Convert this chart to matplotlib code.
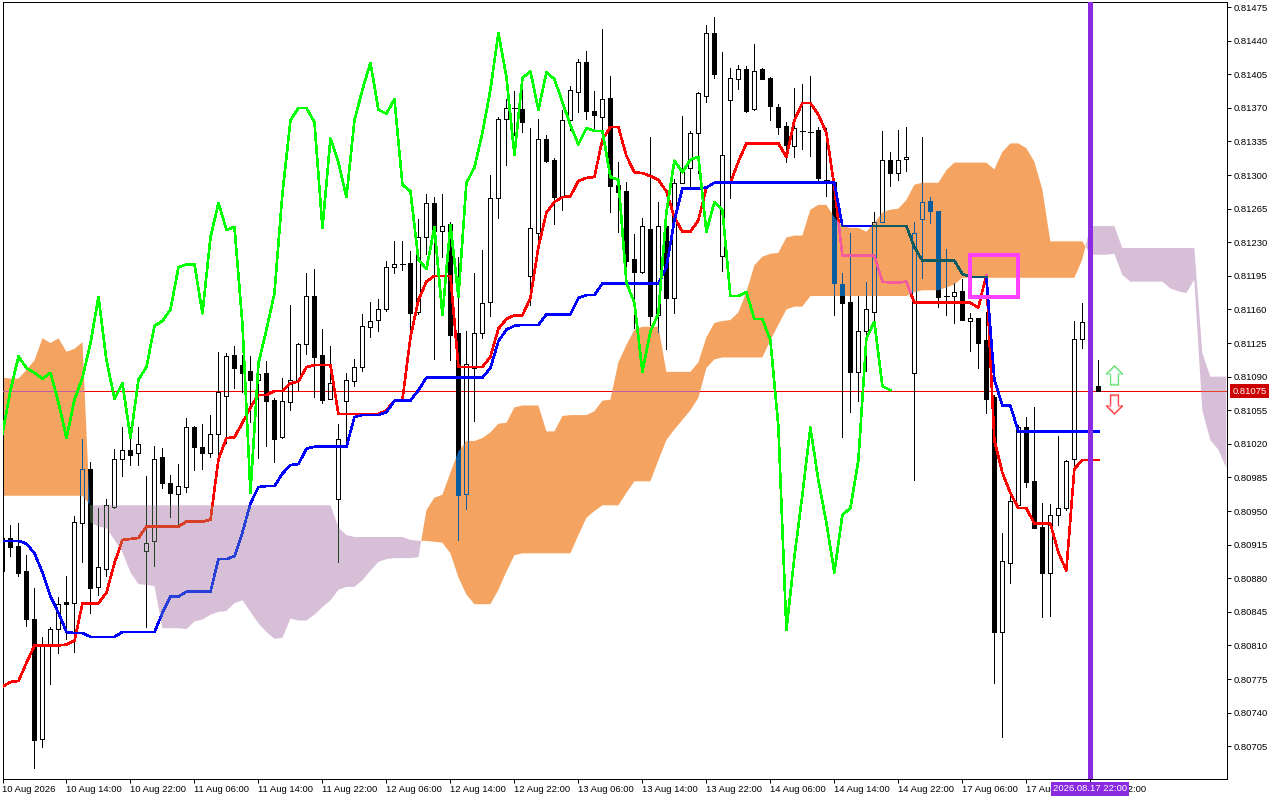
import numpy as np
import matplotlib
matplotlib.use("Agg")
import matplotlib.pyplot as plt
from matplotlib.path import Path

# prices in points (1 point = 0.00001), H1 bars
opens = [80888,80922,80914,80888,80838,80713,80810,80827,80855,80854,
         80938,80994,80871,80890,80954,81004,81014,81010,80908,80919,
         81006,80979,80968,80975,81038,81017,81010,81030,81070,81113,
         81102,81096,81087,81094,81066,81027,81064,81087,81124,81174,
         81113,81067,80963,81065,81085,81100,81142,81149,81160,81204,
         81207,81208,81157,81235,81271,81242,81249,81136,80968,81099,
         81136,81168,81276,81358,81370,81369,81195,81240,81338,81316,
         81277,81357,81387,81418,81367,81360,81380,81290,81283,81213,
         81199,81244,81154,81247,81172,81292,81307,81344,81382,81448,
         81216,81378,81400,81411,81369,81410,81401,81371,81351,81330,
         81346,81345,81347,81295,81293,81187,81168,81095,81138,81157,
         81251,81316,81302,81317,81094,81254,81273,81263,81174,81174,
         81179,81148,81151,81128,81069,80824,80896,80956,81038,80981,
         80933,80885,80946,80953,81004,81129,81129,81080]
highs = [80930,80936,80938,80904,80870,80819,80829,80860,80882,80945,
         81025,81001,80953,80963,81015,81038,81038,81038,80987,81018,
         81016,80988,80999,81047,81039,81041,81050,81116,81115,81122,
         81113,81112,81102,81106,81068,81089,81165,81125,81198,81202,
         81140,81122,81041,81094,81108,81155,81168,81171,81211,81231,
         81231,81221,81254,81280,81277,81280,81251,81215,81138,81198,
         81222,81300,81360,81379,81388,81390,81349,81358,81342,81318,
         81368,81393,81421,81429,81388,81452,81403,81314,81293,81239,
         81255,81340,81272,81271,81296,81362,81346,81387,81456,81465,
         81428,81412,81415,81414,81437,81412,81402,81374,81355,81391,
         81395,81403,81350,81349,81293,81198,81240,81174,81189,81262,
         81346,81324,81347,81350,81251,81340,81277,81263,81223,81188,
         81192,81156,81151,81157,81071,80927,80969,81040,81048,81058,
         80958,80957,81028,81003,81148,81167,81130,81107]
lows = [80886,80903,80882,80830,80682,80704,80770,80802,80817,80803,
        80897,80844,80863,80882,80953,80987,80998,80998,80829,80893,
        80974,80944,80936,80970,80993,80994,81006,81008,81021,81078,
        81074,81043,81005,81018,81001,81026,81055,81076,81114,81069,
        81063,81067,80897,81017,81080,81096,81131,81138,81158,81198,
        81201,81139,81155,81218,81108,81215,81107,80920,80952,81044,
        81130,81153,81255,81310,81342,81345,81165,81222,81314,81249,
        81264,81347,81366,81358,81348,81347,81262,81241,81200,81141,
        81198,81144,81137,81119,81156,81292,81287,81302,81376,81401,
        81200,81276,81390,81366,81368,81400,81357,81343,81314,81319,
        81327,81320,81293,81278,81154,81027,81053,81065,81096,81146,
        81251,81289,81295,81304,80982,81193,81250,81163,81154,81146,
        81149,81117,81099,81052,80771,80715,80875,80954,80975,80932,
        80840,80841,80936,80951,80995,81120,81078,81075]
closes = [80922,80913,80885,80838,80712,80810,80827,80853,80853,80939,
          80994,80870,80892,80956,81004,81014,81008,81020,80917,81004,
          80979,80969,80976,81038,81017,81010,81030,81074,81112,81099,
          81094,81087,81093,81065,81025,81065,81087,81124,81174,81111,
          81066,81083,81025,81087,81100,81143,81148,81161,81204,81207,
          81207,81156,81235,81271,81242,81247,81133,80967,81103,81136,
          81167,81276,81358,81370,81370,81355,81245,81338,81315,81277,
          81357,81389,81418,81367,81363,81379,81289,81282,81211,81199,
          81247,81153,81247,81172,81292,81303,81344,81385,81448,81405,
          81321,81401,81410,81367,81408,81400,81372,81350,81331,81349,
          81346,81345,81297,81295,81188,81167,81095,81138,81160,81251,
          81316,81302,81316,81319,81240,81272,81263,81173,81174,81178,
          81149,81151,81125,81067,80824,80898,80960,81038,80980,80932,
          80885,80946,80953,81002,81129,81147,81080,81075]

tenkan = [80767,80772,80773,80792,80810,80810,80810,80810,80811,80815,
          80854,80854,80854,80865,80896,80920,80921,80922,80934,80934,
          80934,80934,80934,80939,80939,80939,80941,81004,81026,81027,
          81042,81058,81071,81071,81075,81075,81083,81085,81100,81102,
          81102,81102,81051,81051,81051,81051,81051,81051,81055,81065,
          81066,81131,81170,81189,81195,81195,81195,81100,81100,81100,
          81100,81111,81140,81150,81154,81154,81172,81225,81261,81272,
          81277,81278,81294,81297,81298,81337,81350,81350,81320,81303,
          81302,81299,81295,81283,81256,81241,81241,81253,81287,81292,
          81292,81292,81314,81333,81333,81333,81333,81333,81319,81357,
          81375,81375,81363,81344,81288,81216,81216,81216,81216,81216,
          81189,81188,81188,81189,81167,81167,81167,81167,81167,81167,
          81167,81167,81162,81196,81024,80990,80969,80953,80953,80937,
          80937,80937,80907,80888,80994,81003,81003,81003]
kijun = [80919,80919,80919,80916,80906,80886,80861,80844,80824,80823,
         80823,80819,80819,80819,80819,80824,80824,80824,80824,80824,
         80844,80861,80861,80866,80866,80866,80866,80900,80900,80903,
         80928,80958,80975,80976,80976,80989,80998,80999,81015,81017,
         81017,81017,81017,81017,81048,81050,81050,81050,81053,81065,
         81065,81065,81076,81089,81089,81089,81089,81089,81089,81089,
         81089,81099,81127,81139,81143,81144,81144,81144,81155,81155,
         81155,81155,81172,81175,81175,81187,81187,81187,81187,81187,
         81187,81187,81187,81204,81253,81286,81286,81286,81287,81292,
         81292,81292,81292,81292,81292,81292,81292,81292,81292,81292,
         81292,81292,81292,81292,81292,81247,81247,81247,81247,81247,
         81247,81247,81247,81247,81225,81211,81211,81211,81211,81211,
         81197,81194,81194,81194,81087,81060,81060,81033,81033,81033,
         81033,81033,81033,81033,81033,81033,81033,81033]
chikou = [81031,81076,81111,81099,81094,81088,81094,81063,81026,81066,
          81089,81125,81173,81107,81067,81083,81026,81087,81100,81143,
          81148,81160,81204,81207,81207,81156,81235,81271,81243,81246,
          81144,80969,81104,81139,81177,81281,81357,81370,81370,81355,
          81245,81338,81313,81277,81357,81389,81417,81368,81364,81379,
          81290,81283,81212,81202,81246,81154,81248,81173,81292,81308,
          81344,81389,81448,81402,81321,81401,81408,81368,81407,81400,
          81376,81352,81332,81349,81346,81346,81298,81295,81188,81167,
          81095,81137,81156,81261,81315,81303,81316,81319,81241,81272,
          81264,81174,81174,81178,81150,81150,81128,81038,80826,80902,
          80967,81037,80982,80938,80886,80946,80953,81003,81130,81147,
          81080,81076]

span_a = [81089,81088,81088,81097,81107,81130,81125,81130,81116,81119,
          81126,80938,80934,80932,80920,80907,80886,80874,80873,80872,
          80828,80828,80828,80827,80835,80837,80842,80845,80846,80854,
          80857,80845,80833,80824,80817,80818,80838,80836,80836,80842,
          80850,80857,80868,80871,80871,80878,80888,80897,80900,80901,
          80901,80901,80902,80951,80964,80967,80990,81012,81023,81023,
          81026,81032,81041,81042,81058,81060,81060,81060,81033,81033,
          81049,81050,81050,81050,81054,81065,81066,81105,81123,81139,
          81142,81142,81142,81095,81095,81095,81095,81105,81131,81146,
          81148,81149,81157,81178,81206,81215,81218,81219,81235,81237,
          81237,81264,81269,81269,81256,81247,81245,81245,81241,81250,
          81261,81264,81265,81274,81290,81292,81292,81292,81305,81313,
          81313,81313,81313,81313,81306,81324,81333,81333,81328,81314,
          81285,81231,81231,81231,81231,81231,81217,81217,81217,81218,
          81196,81189,81189,81189,81189,81189,81182,81179,81177,81191,
          81055,81024,81014,80995]
span_b = [80966,80966,80966,80966,80966,80966,80966,80966,80966,80966,
          80966,80956,80956,80956,80956,80956,80956,80956,80956,80956,
          80956,80956,80956,80956,80956,80956,80956,80956,80956,80956,
          80956,80956,80956,80956,80956,80956,80956,80956,80956,80956,
          80956,80956,80933,80925,80923,80923,80923,80923,80923,80923,
          80923,80920,80919,80919,80918,80917,80906,80881,80863,80853,
          80853,80853,80868,80887,80904,80906,80906,80906,80906,80906,
          80906,80906,80925,80943,80950,80956,80956,80956,80969,80981,
          80981,80981,81003,81024,81035,81045,81055,81068,81099,81108,
          81110,81110,81110,81110,81110,81110,81128,81144,81160,81163,
          81163,81174,81174,81174,81174,81174,81174,81174,81174,81174,
          81174,81174,81174,81174,81178,81180,81180,81180,81183,81186,
          81193,81193,81193,81193,81193,81193,81193,81193,81193,81193,
          81193,81193,81193,81193,81193,81212,81247,81247,81247,81247,
          81224,81224,81224,81224,81224,81224,81224,81224,81224,81224,
          81115,81090,81090,81090]

date_labels = ["10 Aug 2026","10 Aug 14:00","10 Aug 22:00","11 Aug 06:00","11 Aug 14:00",
               "11 Aug 22:00","12 Aug 06:00","12 Aug 14:00","12 Aug 22:00","13 Aug 06:00",
               "13 Aug 14:00","13 Aug 22:00","14 Aug 06:00","14 Aug 14:00","14 Aug 22:00",
               "17 Aug 06:00","17 Aug 14:00","17 Aug 22:00"]
last_price = 81075
cursor_bar = 136
box_bars = [121, 127]
box_prices = [81173, 81217]
arrow_bar = 139
arrow_up_price = 81092
arrow_down_price = 81062

o = np.array(opens) / 1e5
h = np.array(highs) / 1e5
l = np.array(lows) / 1e5
c = np.array(closes) / 1e5
x = np.arange(len(o))
span_x = np.arange(len(span_a))
a = np.array(span_a) / 1e5
b = np.array(span_b) / 1e5

PX = 0.72  # one pixel in points at dpi 100
LINE_W = 1.6 * PX
ORANGE = "#F4A460"
THISTLE = "#D8BFD8"
VIOLET = "#8A2BE2"

plt.rcParams["font.family"] = ["Liberation Sans", "DejaVu Sans"]
fig = plt.figure(figsize=(12.8, 8), dpi=100, facecolor="white")
ax = fig.add_axes([2.5 / 1280, 1 - 779 / 800, (1227.3 - 2.5) / 1280, 777 / 800])
ax.set_xlim(0.025, 153.125)
ax.set_ylim(0.806709, 0.814803)

orange = ax.fill_between(span_x, a, b, where=a >= b, interpolate=True, color=ORANGE, lw=0, zorder=1)
purple = ax.fill_between(span_x, a, b, where=a < b, interpolate=True, color=THISTLE, lw=0, zorder=1)


def draw_layer(black, red, blue, price_col, z, clip=None):
    # price line, candles and the two lines; the cloud recolours them (xor look of the terminal)
    arts = [ax.axhline(last_price / 1e5, color=price_col, lw=PX, zorder=z)]
    up = c > o
    down = c < o
    flat = c == o
    top = np.maximum(o, c)
    bot = np.minimum(o, c)
    arts.append(ax.vlines(x[~up], l[~up], h[~up], color=black, lw=PX, zorder=z))
    arts.append(ax.vlines(x[up], top[up], h[up], color=black, lw=PX, zorder=z))
    arts.append(ax.vlines(x[up], l[up], bot[up], color=black, lw=PX, zorder=z))
    arts.append(ax.vlines(x[down], c[down], o[down], color=black, lw=5 * PX, zorder=z))
    arts.append(ax.hlines(c[flat], x[flat] - 0.3, x[flat] + 0.3, color=black, lw=PX, zorder=z))
    bars = ax.bar(x[up], top[up] - bot[up], bottom=bot[up], width=0.5, facecolor="none",
                  edgecolor=black, lw=PX, zorder=z)
    arts.extend(bars.patches)
    arts.append(ax.plot(x, np.array(tenkan) / 1e5, color=red, lw=LINE_W, zorder=z)[0])
    arts.append(ax.plot(x, np.array(kijun) / 1e5, color=blue, lw=LINE_W, zorder=z)[0])
    for art in arts:
        art.set_antialiased(False)
        if clip is not None:
            art.set_clip_path(clip, ax.transData)


draw_layer("black", "#FF0000", "#0000FF", "#F00000", 3)
draw_layer("#0B5B9F", "#F45B9F", "#0B5B60", "#C75B9F", 3.1,
           Path.make_compound_path(*orange.get_paths()))
draw_layer("#274027", "#D84027", "#2740D8", "#EB4027", 3.2,
           Path.make_compound_path(*purple.get_paths()))

ax.plot(np.arange(len(chikou)), np.array(chikou) / 1e5, color="#00FF00", lw=LINE_W,
        antialiased=False, zorder=4)

# marked box and the cursor line
ax.add_patch(plt.Rectangle((box_bars[0], box_prices[0] / 1e5), box_bars[1] - box_bars[0],
                           (box_prices[1] - box_prices[0]) / 1e5, fill=False,
                           edgecolor="#FF40FF", lw=4 * PX, joinstyle="miter", zorder=5))
ax.axvline(cursor_bar, color=VIOLET, lw=5 * PX, zorder=6)

arrow = Path([(0, 1), (0.85, 0.15), (0.42, 0.15), (0.42, -1), (-0.42, -1), (-0.42, 0.15),
              (-0.85, 0.15), (0, 1)], closed=True)
arrow_down = Path(arrow.vertices * [1, -1], closed=True)
ax.plot([arrow_bar], [arrow_up_price / 1e5], marker=arrow, ms=19 * PX, mfc="none", mec="#5CDD5C",
        mew=1.3 * PX, zorder=5)
ax.plot([arrow_bar], [arrow_up_price / 1e5], marker=arrow, ms=16 * PX, mfc="none", mec="#C8F8F0",
        mew=0.7 * PX, zorder=5)
ax.plot([arrow_bar], [arrow_down_price / 1e5], marker=arrow_down, ms=19 * PX, mfc="none", mec="#FF3030",
        mew=1.3 * PX, zorder=5)
ax.plot([arrow_bar], [arrow_down_price / 1e5], marker=arrow_down, ms=16 * PX, mfc="none", mec="#FFB0C0",
        mew=0.7 * PX, zorder=5)

# axes in terminal style
for side in ax.spines:
    ax.spines[side].set_linewidth(PX)
ax.yaxis.tick_right()
yticks = np.arange(80705, 81476, 35) / 1e5
ax.set_yticks(yticks)
ax.set_yticklabels(["%.5f" % v for v in yticks], fontsize=6.8)
ax.set_xticks(np.arange(len(date_labels)) * 8)
ax.set_xticklabels(date_labels, fontsize=6.8, ha="left")
ax.tick_params(axis="y", length=3, width=PX, pad=1.5)
ax.tick_params(axis="x", length=3, width=PX, pad=1.5)

ax.text(1.0042, last_price / 1e5, "%.5f" % (last_price / 1e5), transform=ax.get_yaxis_transform(),
        fontsize=6.8, color="white", va="center", ha="left", zorder=10, clip_on=False,
        bbox=dict(boxstyle="square,pad=0.22", fc="#CC0000", ec="none"))
ax.text(cursor_bar, -0.0128, "2026.08.17 22:00", transform=ax.get_xaxis_transform(), fontsize=6.8,
        color="white", va="center", ha="center", zorder=10, clip_on=False,
        bbox=dict(boxstyle="square,pad=0.22", fc=VIOLET, ec="none"))

fig.savefig("out.png", dpi=100)
